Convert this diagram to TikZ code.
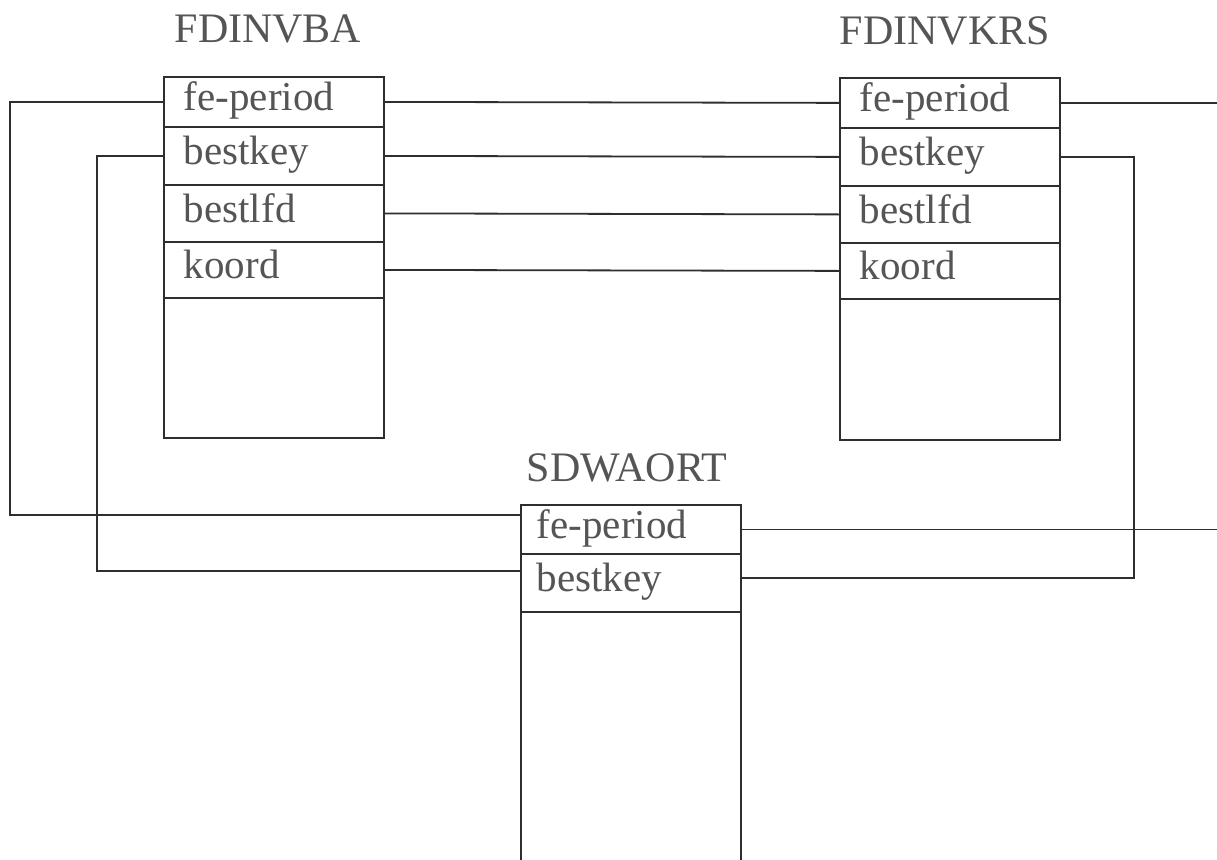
\documentclass[tikz,border=0pt]{standalone}
\usepackage{fontspec}
\setmainfont{Liberation Serif}
\definecolor{linec}{HTML}{2E2E2E}
\definecolor{txtc}{HTML}{555555}
\begin{document}
\begin{tikzpicture}[x=1pt,y=-1pt,
  cell/.style={draw=linec, line width=1.8pt, anchor=north west,
    inner xsep=20pt, inner ysep=0pt, text width=180pt, align=left,
    text height=30pt, text depth=12pt,
    font=\fontsize{41}{48}\selectfont, text=txtc},
  title/.style={anchor=base, font=\fontsize{42}{48}\selectfont, text=txtc, inner sep=0pt},
  conn/.style={draw=linec, line width=1.8pt}]
\useasboundingbox (0,0) rectangle (1217,859);
\clip (0,0) rectangle (1217,859);
\fill[white] (0,0) rectangle (1217,859);

% FDINVBA
\node[title] (tba) at (268,43) {FDINVBA};
\node[cell, minimum height=50pt] (ba1) at (163,76) {fe-period};
\node[cell, minimum height=58pt] (ba2) at (163,126) {bestkey};
\node[cell, minimum height=57pt] (ba3) at (163,184) {bestlfd};
\node[cell, minimum height=56pt] (ba4) at (163,241) {koord};
\node[cell, minimum height=140pt] (ba5) at (163,297) {};

% FDINVKRS
\node[title] (tkrs) at (945,45) {FDINVKRS};
\node[cell, minimum height=50pt] (krs1) at (839,77) {fe-period};
\node[cell, minimum height=58pt] (krs2) at (839,127) {bestkey};
\node[cell, minimum height=57pt] (krs3) at (839,185) {bestlfd};
\node[cell, minimum height=56pt] (krs4) at (839,242) {koord};
\node[cell, minimum height=141pt] (krs5) at (839,298) {};

% SDWAORT
\node[title] (tsd) at (627,481) {SDWAORT};
\node[cell, minimum height=49pt, inner xsep=16pt, text width=188pt] (sd1) at (520,504) {fe-period};
\node[cell, minimum height=58pt, inner xsep=16pt, text width=188pt] (sd2) at (520,553) {bestkey};
\node[cell, minimum height=300pt, inner xsep=16pt, text width=188pt] (sd3) at (520,611) {};

% helper coordinates
\coordinate (lxa) at (10,0);
\coordinate (lxb) at (97,0);
\coordinate (rxa) at (1134,0);
\coordinate (redge) at (1222,0);

% connectors
\draw[conn] (ba1.east) -- (krs1.west);
\draw[conn] (ba2.east) -- (krs2.west);
\draw[conn] (ba3.east) -- (krs3.west);
\draw[conn] (ba4.east) -- (krs4.west);
\draw[conn] (ba1.west) -- (ba1.west -| lxa) |- ([yshift=14.5pt]sd1.west);
\draw[conn] (ba2.west) -- (ba2.west -| lxb) |- ([yshift=12pt]sd2.west);
\draw[conn] (krs1.east) -- (krs1.east -| redge);
\draw[conn] (sd1.east) -- (sd1.east -| redge);
\draw[conn] (krs2.east) -- (krs2.east -| rxa) |- ([yshift=5pt]sd2.east);
\end{tikzpicture}
\end{document}
